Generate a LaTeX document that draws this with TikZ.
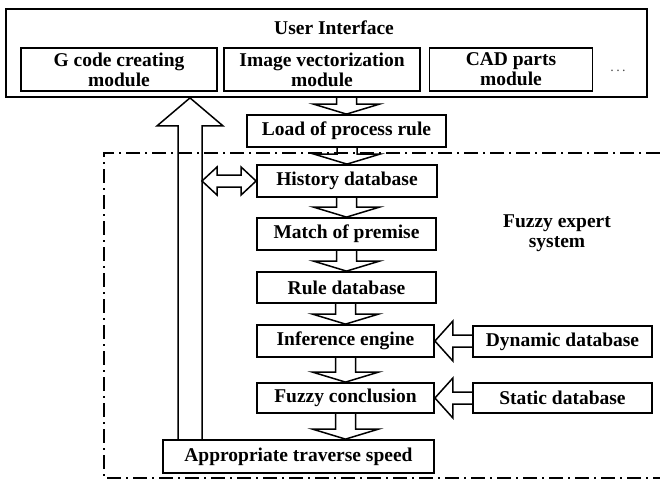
\documentclass[tikz,border=0pt]{standalone}
\usepackage{fontspec}
\setmainfont{Liberation Serif}
\usetikzlibrary{calc}
\tikzset{
  box/.style={draw, line width=1.8pt, inner sep=0pt, align=center,
    font=\bfseries\fontsize{19.5}{20}\selectfont},
  lbl/.style={inner sep=0pt, align=center,
    font=\bfseries\fontsize{19.5}{20}\selectfont},
  blk/.style={draw, line width=1.5pt, line join=miter},
  fesframe/.style={draw, line width=1.6pt, dash pattern=on 14pt off 5pt on 2pt off 5pt},
}
\newcommand{\blkdown}[2]{\draw[blk] let \p1=#1, \p2=#2 in
  (\x2-10pt,\y1) -- (\x2-10pt,\y2+10pt) -- (\x2-33pt,\y2+10pt) -- (\x2,\y2)
  -- (\x2+33pt,\y2+10pt) -- (\x2+10pt,\y2+10pt) -- (\x2+10pt,\y1);}
\newcommand{\blkleft}[2]{\draw[blk] let \p1=#1, \p2=#2 in
  (\x1,\y2+6pt) -- (\x2+18pt,\y2+6pt) -- (\x2+18pt,\y2+20pt) -- (\x2,\y2)
  -- (\x2+18pt,\y2-20pt) -- (\x2+18pt,\y2-6pt) -- (\x1,\y2-6pt);}
\begin{document}
\begin{tikzpicture}[x=1pt,y=-1pt]
\useasboundingbox[fill=white] (0,0) rectangle (660,483);

% user interface
\node[box, minimum width=641pt, minimum height=88pt] (ui) at (326.5,53) {};
\node[lbl] (uilabel) at (334,28) {User Interface};
\node[box, minimum width=196pt, minimum height=43pt] (gcode) at (119,69.5) {G code creating\\module};
\node[box, minimum width=196pt, minimum height=43pt] (imgv) at (322,69.5) {Image vectorization\\module};
\node[box, minimum width=163pt, minimum height=43pt] (cad) at (511,69.5) {CAD parts\\module};
\node[inner sep=0pt, font=\fontsize{14}{14}\selectfont, text=black!70] (dots) at (618,71) {.\,.\,.};

% main chain
\node[box, minimum width=199pt, minimum height=32pt] (load) at (346.5,131) {Load of process rule};
\node[box, minimum width=180pt, minimum height=32pt] (hist) at (347,181) {History database};
\node[box, minimum width=179pt, minimum height=32pt] (match) at (346.5,234) {Match of premise};
\node[box, minimum width=179pt, minimum height=31pt] (rule) at (346.5,287.5) {Rule database};
\node[box, minimum width=177pt, minimum height=32pt] (inf) at (345.5,341) {Inference engine};
\node[box, minimum width=177pt, minimum height=30pt] (fc) at (345.5,398) {Fuzzy conclusion};
\node[box, minimum width=271pt, minimum height=33pt] (app) at (298.5,456.5) {Appropriate traverse speed};
\node[box, minimum width=179pt, minimum height=31pt] (dyn) at (562.5,341.5) {Dynamic database};
\node[box, minimum width=179pt, minimum height=30pt] (stat) at (562.5,398) {Static database};
\node[lbl] (feslabel) at (557,233) {Fuzzy expert\\system};

% down block arrows
\blkdown{(ui.south)}{(load.north)}
\blkdown{(load.south)}{(hist.north)}
\blkdown{(hist.south)}{(match.north)}
\blkdown{(match.south)}{(rule.north)}
\blkdown{(rule.south)}{(inf.north)}
\blkdown{(inf.south)}{(fc.north)}
\blkdown{(fc.south)}{(fc.south |- app.north)}

% left block arrows
\blkleft{(dyn.west)}{(inf.east)}
\blkleft{(stat.west)}{(fc.east)}

% feedback up arrow
\coordinate (fbx) at (190,0);
\draw[blk] let \p1=(fbx |- app.north), \p2=(fbx |- ui.south) in
  (\x1-12pt,\y1) -- (\x1-12pt,\y2-28pt) -- (\x1-33pt,\y2-28pt) -- (\x2,\y2)
  -- (\x1+33pt,\y2-28pt) -- (\x1+12pt,\y2-28pt) -- (\x1+12pt,\y1);

% double arrow to history database
\coordinate (dblx) at (202,0);
\draw[blk] let \p1=(dblx |- hist.west), \p2=(hist.west) in
  (\x1,\y1) -- (\x1+15pt,\y1+14pt) -- (\x1+15pt,\y1+6pt) -- (\x2-15pt,\y1+6pt)
  -- (\x2-15pt,\y1+14pt) -- (\x2,\y2) -- (\x2-15pt,\y1-14pt) -- (\x2-15pt,\y1-6pt)
  -- (\x1+15pt,\y1-6pt) -- (\x1+15pt,\y1-14pt) -- cycle;

% fuzzy expert system frame
\draw[fesframe] (660,153) -- (104,153) -- (104,478) -- (660,478);
\end{tikzpicture}
\end{document}
